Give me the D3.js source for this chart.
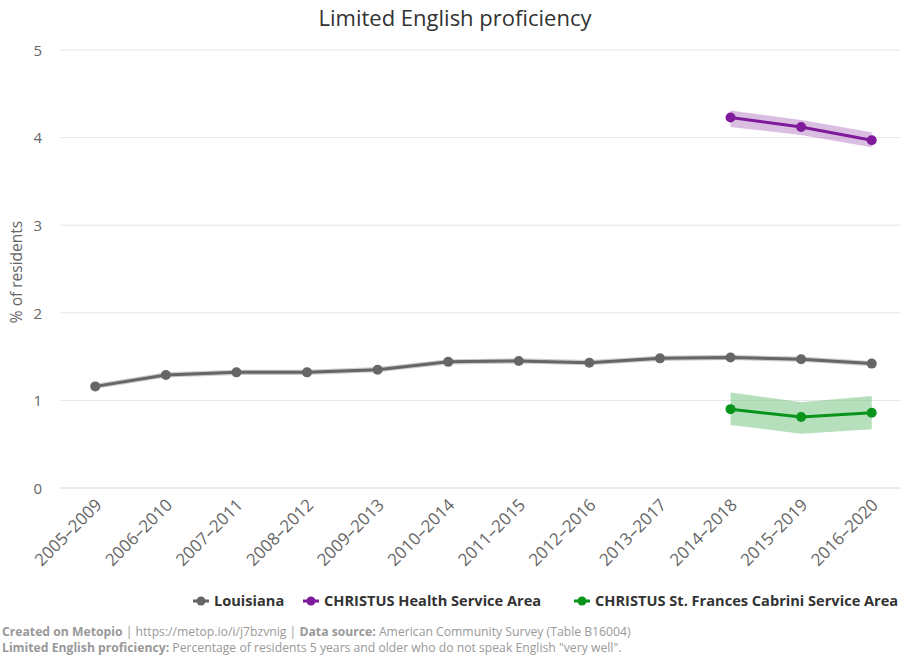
<!DOCTYPE html>
<html><head><meta charset="utf-8">
<script src="https://cdn.jsdelivr.net/npm/d3@7"></script>
<style>body{margin:0;background:#fff;} text{font-family:"Open Sans",sans-serif;}</style>
</head><body>
<svg id="c" width="901" height="656"></svg>
<script>
const categories = ["2005–2009","2006–2010","2007–2011","2008–2012","2009–2013","2010–2014","2011–2015","2012–2016","2013–2017","2014–2018","2015–2019","2016–2020"];
const louisiana = [1.16,1.29,1.32,1.32,1.35,1.44,1.45,1.43,1.48,1.49,1.47,1.42];
const louisianaLow = [1.13,1.26,1.29,1.29,1.32,1.41,1.42,1.40,1.45,1.46,1.44,1.39];
const louisianaHigh = [1.19,1.32,1.35,1.35,1.38,1.47,1.48,1.46,1.51,1.52,1.50,1.45];
const christusCats = ["2014–2018","2015–2019","2016–2020"];
const christus = [4.23,4.12,3.97];
const christusLow = [4.12,4.03,3.89];
const christusHigh = [4.31,4.20,4.06];
const cabrini = [0.90,0.81,0.86];
const cabriniLow = [0.72,0.62,0.67];
const cabriniHigh = [1.09,0.98,1.05];
const yTicks = [0,1,2,3,4,5];

(function(){
const svg = d3.select("#c");
const mLeft = 60, mRight = 907, mTop = 50, mBottom = 488;
const x = d3.scalePoint().domain(categories).range([mLeft, mRight]).padding(0.5);
const y = d3.scaleLinear().domain([0,5]).range([mBottom, mTop]);

svg.append("text").attr("x",455).attr("y",26).attr("text-anchor","middle")
  .attr("font-size",22).attr("fill","#333").text("Limited English proficiency");

svg.append("g").selectAll("line").data(yTicks.filter(d=>d>0)).join("line")
  .attr("x1",mLeft).attr("x2",901).attr("y1",d=>y(d)).attr("y2",d=>y(d))
  .attr("stroke","#e6e6e6");
svg.append("line").attr("x1",mLeft).attr("x2",901).attr("y1",y(0)).attr("y2",y(0)).attr("stroke","#ccd6eb");

const yAxis = d3.axisLeft(y).tickValues(yTicks).tickFormat(d3.format("d")).tickSize(0).tickPadding(0);
const gy = svg.append("g").attr("transform",`translate(${mLeft-18},0)`).call(yAxis);
gy.select(".domain").remove();
gy.selectAll("text").attr("font-size",15).attr("fill","#666").attr("font-family","Open Sans").attr("dy","0.35em").attr("text-anchor","end");

svg.append("text").attr("transform",`translate(22,272) rotate(-90)`)
  .attr("text-anchor","middle").attr("font-size",15.5).attr("fill","#666").text("% of residents");

const xAxis = d3.axisBottom(x).tickSize(0).tickPadding(0);
const gx = svg.append("g").attr("transform",`translate(0,${mBottom})`).call(xAxis);
gx.select(".domain").remove();
gx.selectAll("text").attr("font-size",17).attr("fill","#666").attr("font-family","Open Sans")
  .attr("text-anchor","end").attr("dy",null).attr("y",0)
  .attr("transform","translate(7,18) rotate(-45)");

function series(cats, vals, lo, hi, color, band, bandOpacity){
  const pts = cats.map((c,i)=>({c, v:vals[i], lo:lo[i], hi:hi[i]}));
  const area = d3.area().x(d=>x(d.c)).y0(d=>y(d.lo)).y1(d=>y(d.hi));
  svg.append("path").datum(pts).attr("d",area).attr("fill",band).attr("opacity",bandOpacity);
  const line = d3.line().x(d=>x(d.c)).y(d=>y(d.v));
  svg.append("path").datum(pts).attr("d",line).attr("fill","none").attr("stroke",color).attr("stroke-width",3);
  svg.append("g").selectAll("circle").data(pts).join("circle")
    .attr("cx",d=>x(d.c)).attr("cy",d=>y(d.v)).attr("r",5).attr("fill",color);
}
series(categories, louisiana, louisianaLow, louisianaHigh, "#666666", "#b0b0b0", 0.65);
series(christusCats, christus, christusLow, christusHigh, "#7f1a9a", "#b57ec6", 0.5);
series(christusCats, cabrini, cabriniLow, cabriniHigh, "#0a941c", "#6dc27a", 0.5);

const legendItems = [
  {name:"Louisiana", color:"#666666", x:193},
  {name:"CHRISTUS Health Service Area", color:"#7f1a9a", x:303},
  {name:"CHRISTUS St. Frances Cabrini Service Area", color:"#0a941c", x:574}
];
const lg = svg.append("g").attr("transform","translate(0,601)");
legendItems.forEach(it=>{
  lg.append("line").attr("x1",it.x).attr("x2",it.x+16).attr("y1",0).attr("y2",0).attr("stroke",it.color).attr("stroke-width",3);
  lg.append("circle").attr("cx",it.x+8).attr("cy",0).attr("r",4.5).attr("fill",it.color);
  lg.append("text").attr("x",it.x+21).attr("y",0).attr("dy","0.35em").attr("font-size",14.6)
    .attr("font-weight","bold").attr("fill","#333").text(it.name);
});

const f1 = svg.append("text").attr("x",2).attr("y",636).attr("font-size",12.2).attr("fill","#999");
f1.append("tspan").attr("font-weight","bold").text("Created on Metopio");
f1.append("tspan").text(" | https://metop.io/i/j7bzvnig | ");
f1.append("tspan").attr("font-weight","bold").text("Data source:");
f1.append("tspan").text(" American Community Survey (Table B16004)");
const f2 = svg.append("text").attr("x",2).attr("y",652).attr("font-size",12.2).attr("fill","#999");
f2.append("tspan").attr("font-weight","bold").text("Limited English proficiency:");
f2.append("tspan").text(" Percentage of residents 5 years and older who do not speak English \"very well\".");
})();
</script>
</body></html>
